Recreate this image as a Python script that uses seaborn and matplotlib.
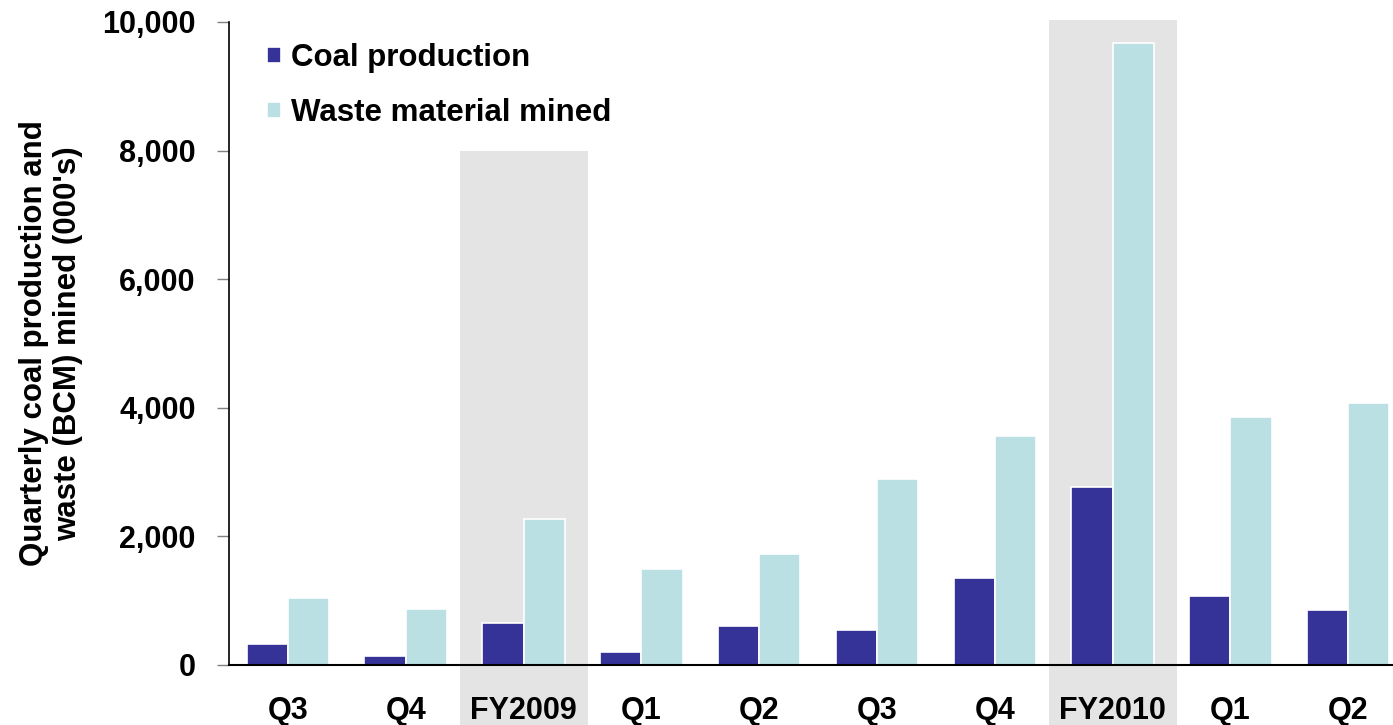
import numpy as np
import pandas as pd
import seaborn as sns
import matplotlib.pyplot as plt
from matplotlib.patches import Rectangle
from matplotlib.ticker import FuncFormatter

periods = ['Q3', 'Q4', 'FY2009', 'Q1', 'Q2', 'Q3', 'Q4', 'FY2010', 'Q1', 'Q2']
coal = [330, 140, 650, 200, 600, 540, 1355, 2770, 1080, 850]
waste = [1040, 870, 2270, 1490, 1720, 2890, 3560, 9680, 3850, 4080]
series = ['Coal production', 'Waste material mined']
colors = ['#363398', '#BAE0E3']
# shaded full-year columns: (index, top of shading)
highlights = [(2, 8000), (7, 10030)]

df = pd.DataFrame({
    'slot': list(range(len(periods))) * 2,
    'series': [series[0]] * len(periods) + [series[1]] * len(periods),
    'value': coal + waste,
})

sns.set_style('white')
plt.rcParams['font.family'] = ['Liberation Sans', 'DejaVu Sans']
plt.rcParams['font.weight'] = 'bold'
plt.rcParams['text.color'] = 'black'
plt.rcParams['axes.labelcolor'] = 'black'

fig = plt.figure(figsize=(13.93, 7.25), dpi=100)
ax = fig.add_axes([229 / 1393, 60 / 725, 1 - 229 / 1393, 643 / 725])

for idx, top in highlights:
    ax.add_patch(Rectangle((idx - 0.54, -1200), 1.09, top + 1200, facecolor='#E4E4E4',
                           edgecolor='none', zorder=0, clip_on=False))

sns.barplot(data=df, x='slot', y='value', hue='series', palette=colors, width=0.7,
            edgecolor='white', linewidth=1.2, saturation=1, ax=ax, zorder=2)

ax.set_yticks(range(0, 10001, 2000))
ax.yaxis.set_major_formatter(FuncFormatter(lambda v, p: f'{int(v):,}'))
ax.set_xticks(range(len(periods)))
ax.set_xticklabels(periods)
ax.set_xticks(np.arange(-0.5, len(periods), 1), minor=True)
# limits after the ticks, since set_xticks widens the view
ax.set_xlim(-0.5, 9.38)
ax.set_ylim(0, 10000)
ax.tick_params(axis='x', which='major', length=0, pad=22.5, labelsize=22, labelcolor='black')
ax.tick_params(axis='x', which='minor', length=9, width=1, color='#808080', direction='out')
ax.tick_params(axis='y', length=9, width=1, color='#808080', direction='out', pad=15,
               labelsize=22, labelcolor='black')
ax.tick_params(left=True, bottom=True)
ax.set_xlabel('')
ax.set_ylabel("Quarterly coal production and\nwaste (BCM) mined (000's)",
              fontsize=22.5, fontweight='bold', labelpad=14, linespacing=1.15)
for lab in ax.get_xticklabels() + ax.get_yticklabels():
    lab.set_fontweight('bold')

sns.despine(ax=ax)
ax.spines['left'].set_color('black')
ax.spines['bottom'].set_color('black')
ax.spines['left'].set_linewidth(1.2)
ax.spines['bottom'].set_linewidth(1.5)
ax.spines['bottom'].set_zorder(3)

ax.legend(loc='upper left', bbox_to_anchor=(0.033, 0.967), frameon=False,
          prop={'size': 22.5, 'weight': 'bold'}, handlelength=0.45, handleheight=0.45,
          handletextpad=0.3, labelspacing=0.8, borderpad=0, borderaxespad=0)

fig.savefig('out.png', dpi=100)
